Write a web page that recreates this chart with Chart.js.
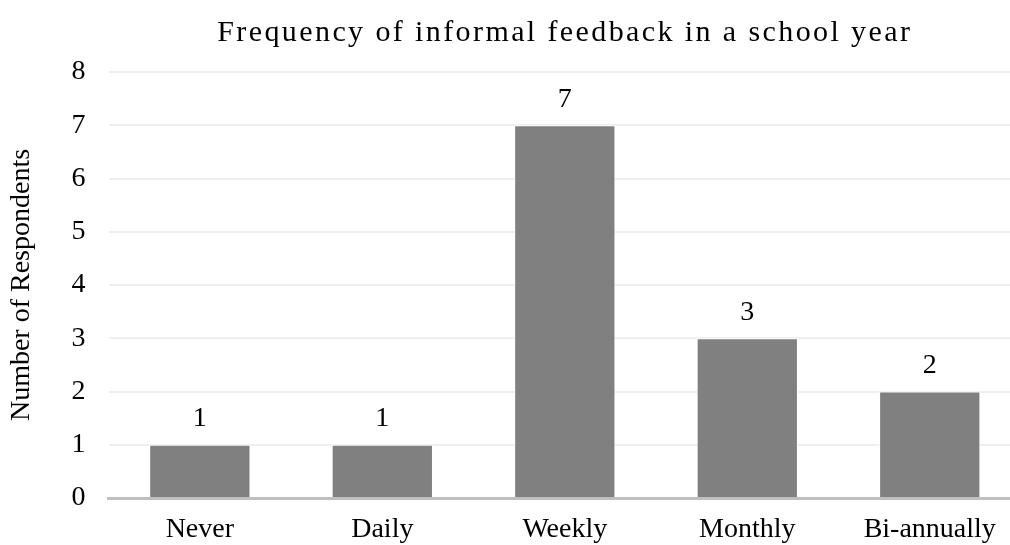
<!DOCTYPE html>
<html>
<head>
<meta charset="utf-8">
<script src="https://cdn.jsdelivr.net/npm/chart.js@4"></script>
<style>
  html, body { margin: 0; padding: 0; overflow: hidden; background: #fff; }
  #wrap { width: 1022px; height: 562px; }
</style>
</head>
<body>
<div id="wrap"><canvas id="chart"></canvas></div>
<script>
const categories = ['Never', 'Daily', 'Weekly', 'Monthly', 'Bi-annually'];
const respondents = [1, 1, 7, 3, 2];
const yTicks = [0, 1, 2, 3, 4, 5, 6, 7, 8];
const chartTitle = 'Frequency of informal feedback in a school year';

const serif = '"Liberation Serif", "Times New Roman", serif';

// etichette sopra le barre + titolo
const barLabels = {
    id: 'barLabels',
    afterDatasetsDraw(chart) {
        const ctx = chart.ctx;
        const meta = chart.getDatasetMeta(0);
        ctx.save();
        ctx.font = '28px ' + serif;
        ctx.fillStyle = '#000';
        ctx.textAlign = 'center';
        ctx.textBaseline = 'middle';
        meta.data.forEach((bar, i) => {
            ctx.fillText(respondents[i], bar.x, bar.y - 26);
        });
        ctx.restore();
    },
    afterDraw(chart) {
        const ctx = chart.ctx;
        const area = chart.chartArea;
        ctx.save();
        ctx.font = '30px ' + serif;
        ctx.letterSpacing = '2.4px';
        ctx.fillStyle = '#000';
        ctx.textAlign = 'center';
        ctx.textBaseline = 'middle';
        ctx.fillText(chartTitle, (area.left + area.right) / 2, 33);
        ctx.restore();
    }
};

new Chart(document.getElementById('chart'), {
    type: 'bar',
    data: {
        labels: categories,
        datasets: [{
            data: respondents,
            backgroundColor: '#808080',
            borderColor: '#ffffff',
            borderWidth: 1,
            barPercentage: 1,
            categoryPercentage: 0.555
        }]
    },
    options: {
        responsive: true,
        maintainAspectRatio: false,
        animation: false,
        layout: { padding: { top: 72, left: 5, right: 1, bottom: 0 } },
        plugins: {
            legend: { display: false },
            tooltip: { enabled: false },
            title: { display: false }
        },
        scales: {
            y: {
                min: 0,
                max: 8,
                afterBuildTicks: axis => { axis.ticks = yTicks.map(v => ({ value: v })); },
                ticks: {
                    color: '#000',
                    font: { family: serif, size: 28 },
                    padding: 23
                },
                grid: { color: '#efefef', lineWidth: 2, drawTicks: false },
                border: { display: false },
                title: {
                    display: true,
                    text: 'Number of Respondents',
                    color: '#000',
                    font: { family: serif, size: 28, lineHeight: 1.2 },
                    padding: { top: 0, bottom: 10 }
                }
            },
            x: {
                ticks: {
                    color: '#000',
                    font: { family: serif, size: 28, lineHeight: 1 },
                    padding: 18
                },
                grid: { display: false, drawTicks: false },
                border: { color: '#bfbfbf', width: 3 }
            }
        }
    },
    plugins: [barLabels]
});
</script>
</body>
</html>
